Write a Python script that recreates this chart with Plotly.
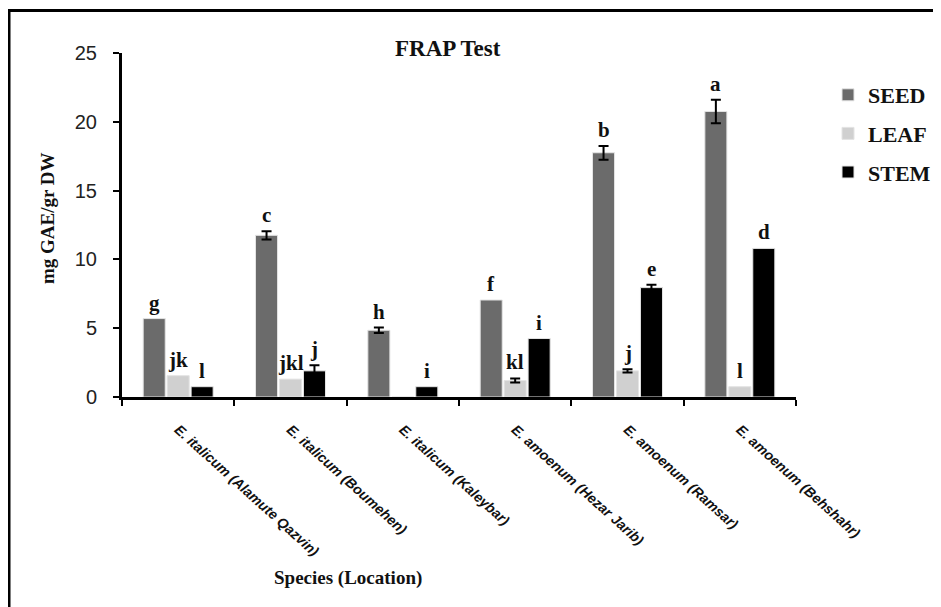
import plotly.graph_objects as go

# ---------------- data ----------------
categories = [
    "E. italicum (Alamute Qazvin)",
    "E. italicum (Boumehen)",
    "E. italicum (Kaleybar)",
    "E. amoenum (Hezar Jarib)",
    "E. amoenum (Ramsar)",
    "E. amoenum (Behshahr)",
]
series_names = ["SEED", "LEAF", "STEM"]
seed = [5.7, 11.75, 4.85, 7.05, 17.75, 20.75]
leaf = [1.55, 1.3, 0.0, 1.2, 1.9, 0.75]
stem = [0.75, 1.9, 0.75, 4.25, 7.95, 10.8]
seed_err = [None, 0.3, 0.2, None, 0.5, 0.85]
leaf_err = [None, None, None, 0.15, 0.12, None]
stem_err = [None, 0.4, None, None, 0.2, None]
seed_letters = ["g", "c", "h", "f", "b", "a"]
leaf_letters = ["jk", "jkl", "", "kl", "j", "l"]
stem_letters = ["l", "j", "i", "i", "e", "d"]
y_ticks = [0, 5, 10, 15, 20, 25]

values = [seed, leaf, stem]
errors = [seed_err, leaf_err, stem_err]
letters = [seed_letters, leaf_letters, stem_letters]
colors = ["#6b6b6b", "#d0d0d0", "#000000"]

# ---------------- layout constants ----------------
OFF = 8                      # page body margin in the browser
W, H = 941 - OFF, 607 - OFF
PL, PR, PT, PB = 122 - OFF, 796 - OFF, 53 - OFF, 397 - OFF  # plot area (figure px)
BARGAP = 0.36
n = len(series_names)
slot = (1 - BARGAP) / n

def px_x(p):   # p = screen px
    return (p - OFF - PL) / (PR - PL)

def px_y(p):
    return (PB - (p - OFF)) / (PB - PT)

fig = go.Figure()
for k, name in enumerate(series_names):
    fig.add_trace(go.Bar(
        x=categories, y=values[k], name=name,
        marker=dict(color=colors[k], line=dict(color="#e4e4e4", width=1)),
        offsetgroup=name, legendgroup=name,
    ))
    # error bars only where the source shows them
    ey = [v if e is not None else None for v, e in zip(values[k], errors[k])]
    ee = [e if e is not None else 0 for e in errors[k]]
    fig.add_trace(go.Bar(
        x=categories, y=ey, name=name, showlegend=False,
        marker=dict(color="rgba(0,0,0,0)", line=dict(width=0)),
        offsetgroup=name, legendgroup=name, hoverinfo="skip",
        error_y=dict(type="data", array=ee, visible=True,
                     color="black", thickness=2, width=5),
    ))

# letters above bars
annotations = []
for k in range(n):
    off = (k - (n - 1) / 2) * slot
    for i, lab in enumerate(letters[k]):
        if not lab:
            continue
        top = values[k][i] + (errors[k][i] or 0)
        annotations.append(dict(
            x=i + off, y=top, xref="x", yref="y", text=lab, showarrow=False,
            yanchor="bottom", yshift=2,
            font=dict(family="Liberation Serif", size=21, color="#111",
                      weight="bold"),
        ))

# titles
annotations.append(dict(
    x=px_x(448), y=px_y(49), xref="paper", yref="paper", text="FRAP Test",
    showarrow=False, xanchor="center", yanchor="middle",
    font=dict(family="Liberation Serif", size=23, color="#111", weight="bold")))
annotations.append(dict(
    x=px_x(348), y=px_y(578), xref="paper", yref="paper",
    text="Species (Location)", showarrow=False, xanchor="center",
    yanchor="middle",
    font=dict(family="Liberation Serif", size=19, color="#111", weight="bold")))
annotations.append(dict(
    x=px_x(47), y=px_y(218), xref="paper", yref="paper",
    text="mg GAE/gr DW", showarrow=False, textangle=-90,
    xanchor="center", yanchor="middle",
    font=dict(family="Liberation Serif", size=19, color="#111", weight="bold")))

# frame lines (left and top of the picture)
shapes = [
    dict(type="line", xref="paper", yref="paper",
         x0=px_x(9), x1=px_x(9), y0=px_y(H + 30), y1=px_y(9),
         line=dict(color="black", width=3)),
    dict(type="line", xref="paper", yref="paper",
         x0=px_x(8), x1=px_x(W + 30), y0=px_y(10.5), y1=px_y(10.5),
         line=dict(color="black", width=3)),
]

fig.update_layout(
    width=W, height=H,
    margin=dict(l=PL, r=W - PR, t=PT, b=H - PB, autoexpand=False),
    paper_bgcolor="white", plot_bgcolor="white",
    barmode="group", bargap=BARGAP, bargroupgap=0.08,
    showlegend=True,
    legend=dict(
        x=px_x(828), y=px_y(74), xanchor="left", yanchor="top",
        font=dict(family="Liberation Serif", size=22, color="#111",
                  weight="bold"),
        traceorder="grouped", tracegroupgap=7, itemwidth=30,
        bgcolor="rgba(0,0,0,0)",
    ),
    annotations=annotations,
    shapes=shapes,
    xaxis=dict(
        type="category", showline=True, linecolor="black", linewidth=3,
        ticks="outside", tickson="boundaries", ticklen=6, tickwidth=2,
        tickcolor="black", tickangle=42, showgrid=False, zeroline=False,
        ticklabelstandoff=16,
        tickfont=dict(family="Liberation Sans", size=14, color="#111",
                      weight="bold", style="italic"),
    ),
    yaxis=dict(
        range=[0, 25], tickvals=y_ticks, showline=True, linecolor="black",
        linewidth=3, ticks="outside", ticklen=6, tickwidth=2,
        tickcolor="black", showgrid=False, zeroline=False,
        ticklabelstandoff=12,
        tickfont=dict(family="Liberation Sans", size=20, color="#222"),
    ),
)

fig.write_html("out.html")
